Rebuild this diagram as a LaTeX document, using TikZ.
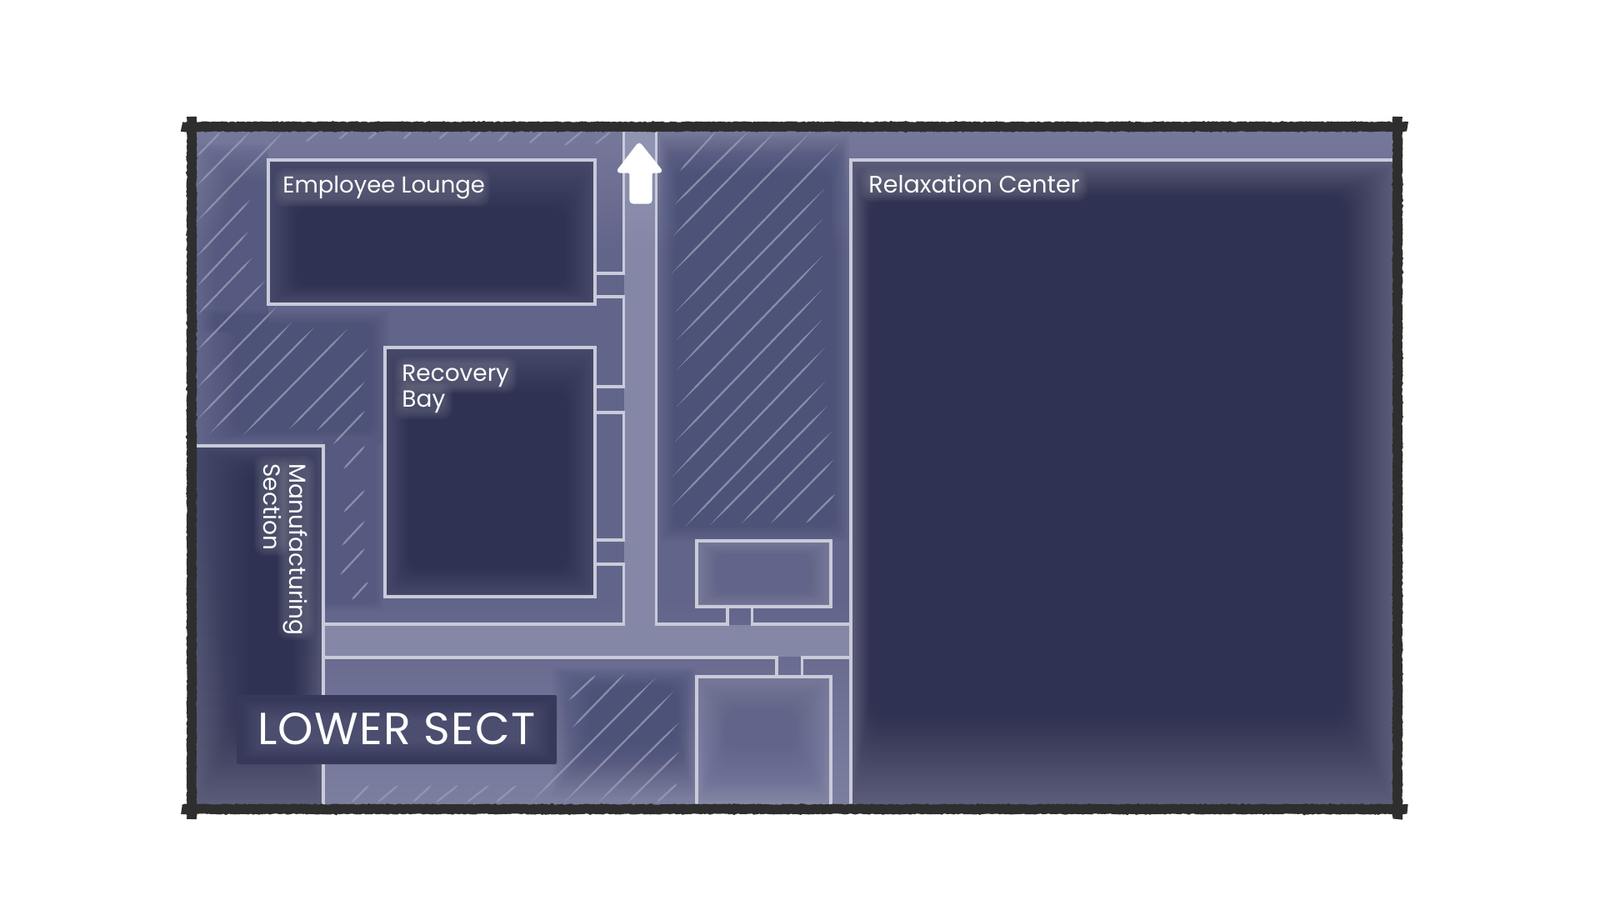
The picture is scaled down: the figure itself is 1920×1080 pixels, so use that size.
\documentclass[tikz,border=0pt]{standalone}
\usepackage{fontspec}
\setmainfont{Poppins}
\usetikzlibrary{decorations.pathmorphing}
\definecolor{basefill}{HTML}{62658A}
\definecolor{toplight}{HTML}{76799A}
\definecolor{botlight}{HTML}{7C7FA0}
\definecolor{hatchblue}{HTML}{4D5278}
\definecolor{hatchsoft}{HTML}{565A80}
\definecolor{hallfill}{HTML}{8487A6}
\definecolor{halltop}{HTML}{9295B2}
\definecolor{roomdark}{HTML}{2F3252}
\definecolor{roomedge}{HTML}{474A6B}
\definecolor{roomfade}{HTML}{5C5E7B}
\definecolor{wallline}{HTML}{CACBD9}
\definecolor{hatchline}{HTML}{989BB6}
\definecolor{framedark}{HTML}{2E2E2E}
\definecolor{tagdark}{HTML}{363959}
\definecolor{taglight}{HTML}{4B4E6F}
\tikzset{
  wall/.style={draw=wallline,line width=1.8pt,line join=miter},
  frameline/.style={draw=framedark,line width=5.8pt,
    decorate,decoration={random steps,segment length=1pt,amplitude=.3pt}},
  roomlabel/.style={text=white,inner sep=0pt,font=\fontsize{14}{15.2}\selectfont,align=left},
  tag/.style={text=white,inner sep=0pt,font=\fontsize{27}{27}\selectfont\addfontfeatures{LetterSpace=2.2}},
}
\newcommand{\softfill}[9]{%
  \foreach \k in {1,...,24}{%
    \pgfmathsetmacro{\xa}{#1+#6*\k/24}
    \pgfmathsetmacro{\ya}{#2+#7*\k/24}
    \pgfmathsetmacro{\xb}{#3-#8*\k/24}
    \pgfmathsetmacro{\yb}{#4-#9*\k/24}
    \pgfmathsetmacro{\op}{1/(25-\k)}
    \pgfmathsetmacro{\rc}{.5+.4*.5*(#6+#7+#8+#9)/4*\k/24}
    \fill[#5,opacity=\op,rounded corners=\rc pt] (\xa,\ya) rectangle (\xb,\yb);
  }}
\newcommand{\hatchln}[4]{%
  \pgfmathsetmacro{\pa}{#1+.14*(#3-#1)}
  \pgfmathsetmacro{\qa}{#2+.14*(#4-#2)}
  \pgfmathsetmacro{\pb}{#3-.14*(#3-#1)}
  \pgfmathsetmacro{\qb}{#4-.14*(#4-#2)}
  \fill[hatchline,opacity=.8] (#1,#2) -- (\pa+.8,\qa+.8) -- (\pb+.8,\qb+.8) -- (#3,#4)
    -- (\pb-.8,\qb-.8) -- (\pa-.8,\qa-.8) -- cycle;}
\newcommand{\glowbox}[4]{%
  \foreach \d in {10,8,6,4,2}{%
    \fill[white,opacity=.03,rounded corners=6pt] (#1-\d,#2-\d) rectangle (#3+\d,#4+\d);
  }}
\begin{document}
\begin{tikzpicture}[x=.5pt,y=-.5pt]
  \useasboundingbox (0,0) rectangle (1920,1080);
  \coordinate (tl) at (230,152);
  \coordinate (tr) at (1677,152);
  \coordinate (bl) at (230,971);
  \coordinate (br) at (1677,971);

  \fill[basefill] (232,155) rectangle (1677,970);
  \shade[top color=toplight,bottom color=basefill] (232,155) rectangle (1677,300);
  \shade[top color=basefill,bottom color=botlight] (232,720) rectangle (1677,970);

  \softfill{236}{170}{322}{400}{hatchsoft}{50}{50}{2}{10}
  \softfill{236}{370}{470}{535}{hatchblue}{60}{25}{30}{22}
  \softfill{388}{520}{462}{735}{hatchsoft}{2}{20}{26}{26}
  \softfill{790}{158}{1021}{652}{hatchblue}{24}{52}{26}{26}
  \softfill{660}{800}{836}{960}{hatchblue}{50}{25}{25}{70}

  \foreach \xa/\ya/\xb/\yb in {
    816/205/859/158,810/245/898/158,808/283/930/158,806/328/973/158,
    810/375/1006/172,812/408/989/227,813/443/987/263,812/488/987/307,
    810/530/987/347,807/572/987/383,807/607/990/417,822/632/990/458,
    852/630/993/487,890/628/998/518,925/628/1000/552,967/628/1002/593,
    237/187/265/158,237/222/300/158,237/265/340/158,237/307/300/240,
    237/343/298/278,237/378/302/310,237/420/318/337,237/465/332/368,
    237/503/350/387,252/520/377/393,292/522/417/395,347/515/442/418,
    380/517/438/458,400/533/438/493,412/563/438/535,412/615/438/588,
    410/655/438/625,408/690/438/658,422/720/442/698,
    367/170/382/158,407/167/418/158,442/167/453/158,484/167/494/158,
    527/167/537/158,563/170/577/158,598/170/610/158,635/172/651/158,
    677/175/698/158,714/173/733/158,
    422/963/443/942,453/963/478/942,495/963/518/942,523/963/550/942,
    560/963/587/942,595/963/620/942,683/840/715/810,687/873/750/808,
    637/963/787/813,677/963/808/830,718/963/815/867,753/963/815/902,
    788/963/813/940}{
    \hatchln{\xa}{\ya}{\xb}{\yb}
  }

  \fill[hallfill] (749,155) rectangle (787,790);
  \shade[top color=halltop,bottom color=hallfill] (749,155) rectangle (787,300);
  \fill[hallfill] (388,750) rectangle (1021,788);

  \fill[roomedge] (322,192) rectangle (714,365);
  \softfill{322}{192}{714}{365}{roomdark}{36}{62}{38}{24}
  \fill[roomedge] (462,417) rectangle (714,716);
  \softfill{462}{417}{714}{716}{roomdark}{30}{56}{36}{36}
  \shade[top color=roomedge,bottom color=roomfade] (232,535) rectangle (388,970);
  \softfill{232}{535}{388}{970}{roomdark}{70}{30}{40}{130}
  \fill[roomfade] (1021,192) rectangle (1677,970);
  \softfill{1021}{192}{1677}{970}{roomdark}{24}{46}{66}{115}
  \fill[toplight] (836,649) rectangle (997,728);
  \softfill{836}{649}{997}{728}{basefill}{30}{20}{30}{20}
  \shade[top color=toplight,bottom color=hallfill] (836,812) rectangle (997,966);
  \softfill{836}{812}{997}{966}{basefill}{36}{40}{44}{70}

  \draw[wall] (322,192) rectangle (714,365);
  \draw[wall] (462,417) rectangle (714,716);
  \draw[wall] (836,649) rectangle (997,728);
  \draw[wall] (836,966) -- (836,812) -- (997,812) -- (997,966);
  \draw[wall] (236,535) -- (388,535) -- (388,966);
  \draw[wall] (1021,966) -- (1021,192) -- (1671,192);
  \draw[wall] (748.5,155) -- (748.5,328) -- (714,328);
  \draw[wall] (714,356) -- (748.5,356) -- (748.5,464) -- (714,464);
  \draw[wall] (714,495) -- (748.5,495) -- (748.5,648) -- (714,648);
  \draw[wall] (714,677) -- (748.5,677) -- (748.5,749) -- (388,749);
  \draw[wall] (787.5,155) -- (787.5,749) -- (873,749) -- (873,728);
  \draw[wall] (902.5,728) -- (902.5,749) -- (1021,749);
  \draw[wall] (388,789) -- (932,789) -- (932,812);
  \draw[wall] (962.5,812) -- (962.5,789) -- (1021,789);

  \fill[tagdark,rounded corners=1pt] (284,834) rectangle (668,917);
  \softfill{284}{834}{668}{917}{taglight}{34}{30}{34}{26}

  \glowbox{339}{212}{578}{238}
  \glowbox{1042}{212}{1295}{232}
  \glowbox{483}{438}{610}{462}
  \glowbox{483}{469}{533}{493}
  \glowbox{343}{557}{368}{758}
  \glowbox{315}{557}{338}{657}

  \node[roomlabel,anchor=base west,font=\fontsize{13.75}{15}\selectfont] (lounge) at (339,232) {Employee Lounge};
  \node[roomlabel,anchor=base west,font=\fontsize{14.3}{15}\selectfont] (relax) at (1042,232) {Relaxation Center};
  \node[roomlabel,anchor=north west] (recovery) at (482,438) {Recovery\\Bay};
  \node[roomlabel,anchor=north west,rotate=-90] (manuf) at (369,556) {Manufacturing\\Section};
  \node[tag,anchor=base west] (lower) at (309,893) {LOWER SECT};

  \draw[white,fill=white,line width=1.6pt,line join=round,rounded corners=1.5pt] (767,172) -- (794,206) -- (781,206)
    -- (781,243) -- (757,243) -- (757,206) -- (741,206) -- cycle;

  \draw[frameline] ([xshift=-6pt]tl) -- ([xshift=6pt]tr);
  \draw[frameline] ([yshift=6pt]tl) -- ([yshift=-6pt]bl);
  \draw[frameline] ([xshift=-6pt]bl) -- ([xshift=6pt]br);
  \draw[frameline] ([yshift=6pt]tr) -- ([yshift=-6pt]br);
\end{tikzpicture}
\end{document}
